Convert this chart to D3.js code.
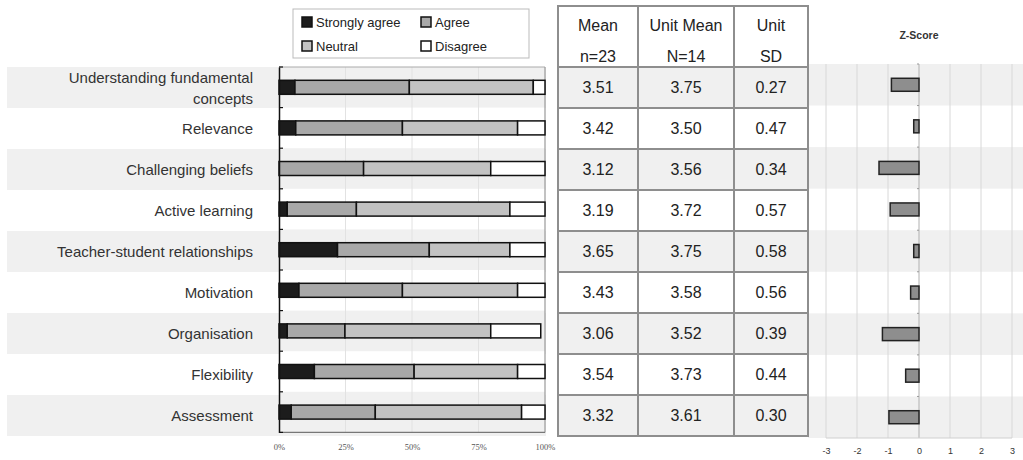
<!DOCTYPE html>
<html><head><meta charset="utf-8">
<script src="https://cdn.jsdelivr.net/npm/d3@7/dist/d3.min.js"></script>
<style>body{margin:0;background:#fff}svg{display:block}</style>
</head><body><svg id="c" width="1023" height="460"></svg>
<script>
const categories = ["Understanding fundamental concepts","Relevance","Challenging beliefs","Active learning","Teacher-student relationships","Motivation","Organisation","Flexibility","Assessment"];
const stronglyAgree = [6.0, 6.3, 0, 3.1, 22.0, 7.5, 3.1, 13.3, 4.6];
const agree = [43.0, 40.1, 31.8, 26.0, 34.5, 38.9, 21.7, 37.5, 31.6];
const neutral = [46.6, 43.3, 47.8, 57.7, 30.3, 43.3, 54.8, 38.9, 55.0];
const disagree = [4.4, 10.3, 20.4, 13.2, 13.2, 10.3, 18.8, 10.3, 8.8];
const meanN23 = ["3.51","3.42","3.12","3.19","3.65","3.43","3.06","3.54","3.32"];
const unitMean = ["3.75","3.50","3.56","3.72","3.75","3.58","3.52","3.73","3.61"];
const unitSD = ["0.27","0.47","0.34","0.57","0.58","0.56","0.39","0.44","0.30"];
const zScore = [-0.89, -0.17, -1.29, -0.93, -0.17, -0.27, -1.18, -0.43, -0.97];
const seriesNames = ["Strongly agree","Agree","Neutral","Disagree"];
const seriesColors = ["#1c1c1c","#a8a8a8","#c2c2c2","#ffffff"];
const pctTicks = [0,25,50,75,100];
const zTicks = [-3,-2,-1,0,1,2,3];
const tableHeader = [["Mean","n=23"],["Unit Mean","N=14"],["Unit","SD"]];

const svg = d3.select("#c");
const stripe = "#f0f0f0";
const sans = "'Liberation Sans', Arial, sans-serif";

const rowY = d3.scaleBand(categories, [67, 436]);
const barY = d3.scaleBand(categories, [67, 432.4]);
const zY = d3.scaleBand(categories, [64, 438]);
const xPct = d3.scaleLinear([0,100],[279,545]);
const zX = d3.scaleLinear([-3,3],[826,1012]);

// background stripes
categories.forEach((c,i)=>{
  if(i%2===0){
    svg.append("rect").attr("x",7).attr("y",rowY(c)).attr("width",546-7).attr("height",rowY.bandwidth()).attr("fill",stripe);
    svg.append("rect").attr("x",808).attr("y",zY(c)).attr("width",1023-808).attr("height",zY.bandwidth()).attr("fill",stripe);
  }
});

// labels
const lab = svg.append("g").attr("font-family",sans).attr("font-size",15).attr("fill","#333").attr("text-anchor","end");
categories.forEach((c,i)=>{
  const cy = rowY(c)+rowY.bandwidth()/2;
  if(i===0){
    lab.append("text").attr("x",253).attr("y",cy-10).attr("dy","0.35em").text("Understanding fundamental");
    lab.append("text").attr("x",253).attr("y",cy+11).attr("dy","0.35em").text("concepts");
  } else {
    lab.append("text").attr("x",253).attr("y",cy).attr("dy","0.35em").text(c);
  }
});

// bar plot
const plot = svg.append("g");
plot.append("rect").attr("x",279).attr("y",67).attr("width",266).attr("height",432.4-67).attr("fill","#fff");
categories.forEach((c,i)=>{
  if(i%2===0) plot.append("rect").attr("x",279).attr("y",barY(c)).attr("width",266).attr("height",barY.bandwidth()).attr("fill",stripe);
});
[25,50,75].forEach(t=>plot.append("line").attr("x1",xPct(t)).attr("x2",xPct(t)).attr("y1",67).attr("y2",432.4).attr("stroke","#e2e2e2"));
plot.append("line").attr("x1",279).attr("x2",545).attr("y1",67).attr("y2",67).attr("stroke","#aaa");
plot.append("line").attr("x1",545).attr("x2",545).attr("y1",67).attr("y2",432.4).attr("stroke","#999").attr("stroke-width",1.2);
plot.append("line").attr("x1",279).attr("x2",545).attr("y1",432.4).attr("y2",432.4).attr("stroke","#777").attr("stroke-width",1.2);

const table = categories.map((c,i)=>({cat:c, "Strongly agree":stronglyAgree[i], "Agree":agree[i], "Neutral":neutral[i], "Disagree":disagree[i]}));
const stack = d3.stack().keys(seriesNames)(table);
const bh = 14;
stack.forEach((s,k)=>{
  plot.append("g").selectAll("rect").data(s.filter(d=>d[1]-d[0]>0)).join("rect")
    .attr("x",d=>xPct(d[0])).attr("width",d=>xPct(d[1])-xPct(d[0]))
    .attr("y",d=>barY(d.data.cat)+barY.bandwidth()/2-bh/2).attr("height",bh)
    .attr("fill",seriesColors[k]).attr("stroke","#111").attr("stroke-width",1.5);
});
// left axis
const la = plot.append("g").attr("transform","translate(279,0)")
  .call(d3.axisRight(barY).tickValues([]).tickSize(0));
la.select(".domain").attr("stroke","#111").attr("stroke-width",1.5);
categories.concat([null]).forEach((c,i)=>{
  const y = c===null ? 432.4 : barY(c);
  plot.append("line").attr("x1",279).attr("x2",283).attr("y1",y).attr("y2",y).attr("stroke","#111").attr("stroke-width",1.2);
});
// bottom labels
const bx = plot.append("g").attr("transform","translate(0,432.4)")
  .call(d3.axisBottom(xPct).tickValues(pctTicks).tickSize(0).tickPadding(12).tickFormat(d=>d+"%"));
bx.select(".domain").remove();
bx.selectAll("text").attr("font-family","'Liberation Serif', 'Times New Roman', serif").attr("font-size",8.5).attr("fill","#555");

// legend
const lg = svg.append("g").attr("font-family",sans).attr("font-size",13).attr("fill","#222");
lg.append("rect").attr("x",293).attr("y",9).attr("width",236).attr("height",49).attr("fill","#fff").attr("stroke","#bbb");
const lpos = [[302,22],[421,22],[302,46],[421,46]];
seriesNames.forEach((n,k)=>{
  lg.append("rect").attr("x",lpos[k][0]).attr("y",lpos[k][1]-5).attr("width",10).attr("height",10)
    .attr("fill",seriesColors[k]).attr("stroke","#111").attr("stroke-width",1.5);
  lg.append("text").attr("x",lpos[k][0]+14).attr("y",lpos[k][1]).attr("dy","0.35em").text(n);
});

// table
const cols = [558,638,734,808];
const tg = svg.append("g").attr("font-family",sans).attr("font-size",16).attr("fill","#222").attr("text-anchor","middle");
tg.append("rect").attr("x",558).attr("y",6).attr("width",250).attr("height",61).attr("fill","#fff");
categories.forEach((c,i)=>{
  tg.append("rect").attr("x",558).attr("y",rowY(c)).attr("width",250).attr("height",rowY.bandwidth()).attr("fill",i%2===0?stripe:"#fff");
});
tableHeader.forEach((h,j)=>{
  const cx=(cols[j]+cols[j+1])/2;
  tg.append("text").attr("x",cx).attr("y",25).attr("dy","0.35em").text(h[0]);
  tg.append("text").attr("x",cx).attr("y",56).attr("dy","0.35em").text(h[1]);
});
[meanN23,unitMean,unitSD].forEach((arr,j)=>{
  const cx=(cols[j]+cols[j+1])/2;
  categories.forEach((c,i)=>{
    tg.append("text").attr("x",cx).attr("y",rowY(c)+rowY.bandwidth()/2).attr("dy","0.35em").text(arr[i]);
  });
});
const tb = svg.append("g").attr("stroke","#8e8e8e").attr("stroke-width",2).attr("fill","none");
tb.append("rect").attr("x",558).attr("y",6).attr("width",250).attr("height",430);
cols.slice(1,3).forEach(x=>tb.append("line").attr("x1",x).attr("x2",x).attr("y1",6).attr("y2",436));
categories.forEach(c=>tb.append("line").attr("x1",558).attr("x2",808).attr("y1",rowY(c)).attr("y2",rowY(c)));

// z-score plot
const zg = svg.append("g");
zTicks.forEach(t=>zg.append("line").attr("x1",zX(t)).attr("x2",zX(t)).attr("y1",64).attr("y2",438).attr("stroke",t===0?"#b0b0b0":"#d8d8d8"));
zg.append("line").attr("x1",826).attr("x2",1012).attr("y1",438).attr("y2",438).attr("stroke","#d0d0d0");
categories.forEach(c=>zg.append("line").attr("x1",zX(0)-2).attr("x2",zX(0)).attr("y1",zY(c)).attr("y2",zY(c)).attr("stroke","#999"));
const zbh = 13;
zg.selectAll("rect.z").data(zScore).join("rect").attr("class","z")
  .attr("x",d=>zX(Math.min(0,d))).attr("width",d=>Math.abs(zX(d)-zX(0)))
  .attr("y",(d,i)=>zY(categories[i])+zY.bandwidth()/2-zbh/2).attr("height",zbh)
  .attr("fill","#8e8e8e").attr("stroke","#222").attr("stroke-width",1.5);
const za = zg.append("g").attr("transform","translate(0,438)")
  .call(d3.axisBottom(zX).tickValues(zTicks).tickSize(0).tickPadding(10).tickFormat(d=>String(d)));
za.select(".domain").remove();
za.selectAll("text").attr("font-family",sans).attr("font-size",9).attr("fill","#333");
svg.append("text").attr("x",919).attr("y",35).attr("dy","0.35em").attr("text-anchor","middle")
  .attr("font-family",sans).attr("font-size",10.5).attr("font-weight","bold").attr("fill","#333").text("Z-Score");
</script></body></html>
